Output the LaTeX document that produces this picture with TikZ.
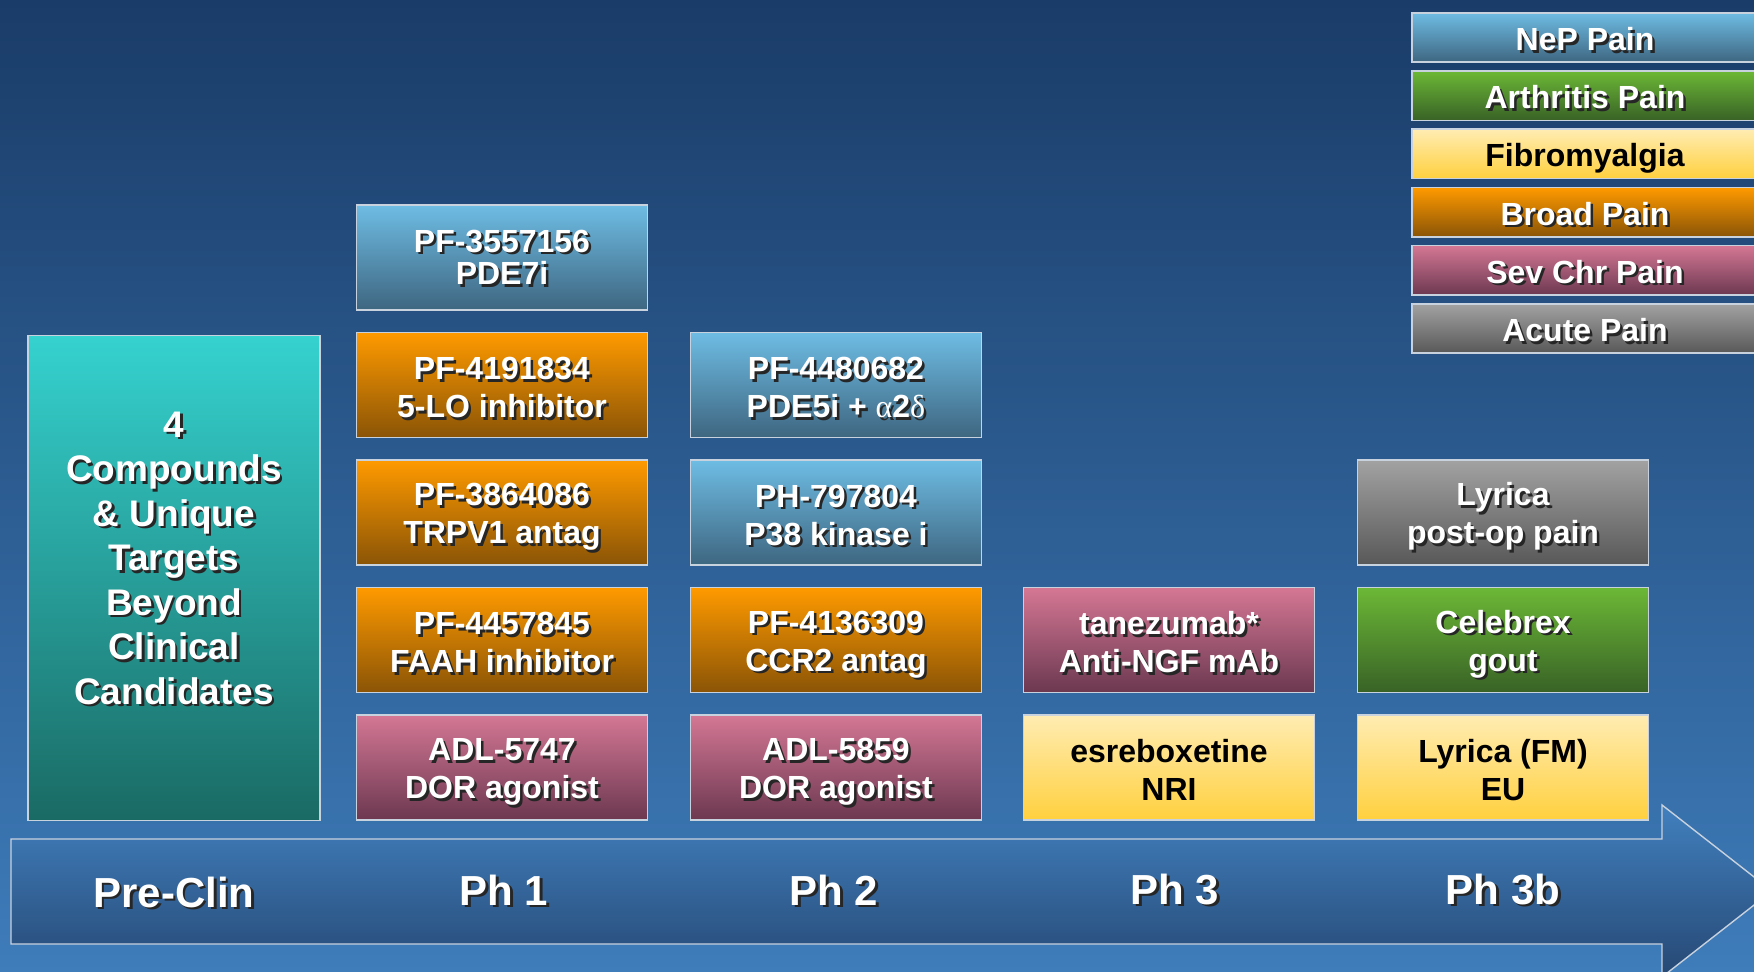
\documentclass[tikz,border=0pt]{standalone}
\usepackage{fontspec}
\setmainfont{Liberation Sans}
\newfontfamily\grkfont{Liberation Serif}
\usepackage{xcolor}
\usepackage{tikz}
\usetikzlibrary{positioning,calc}

\definecolor{bgtop}{HTML}{1A3C68}
\definecolor{bgbot}{HTML}{3E7CBA}
\definecolor{arrtop}{HTML}{4180BE}
\definecolor{arrbot}{HTML}{264874}
\definecolor{edgec}{HTML}{C8D2DE}
\definecolor{bluetop}{HTML}{6EBCE4}
\definecolor{bluebot}{HTML}{3E6680}
\definecolor{orgtop}{HTML}{FF9A00}
\definecolor{orgbot}{HTML}{8A5406}
\definecolor{pinktop}{HTML}{D47794}
\definecolor{pinkbot}{HTML}{6C3850}
\definecolor{yeltop}{HTML}{FFECB2}
\definecolor{yelbot}{HTML}{FFD03E}
\definecolor{grntop}{HTML}{6CB836}
\definecolor{grnbot}{HTML}{386226}
\definecolor{graytop}{HTML}{A2A2A2}
\definecolor{graybot}{HTML}{585858}
\definecolor{tealtop}{HTML}{35D2CF}
\definecolor{tealbot}{HTML}{1A6A64}

% white text with a dark drop shadow
\newcommand\shd[1]{\makebox[0pt][l]{\kern2.5pt\raisebox{-2.5pt}{\color{black!85}#1}}#1}
\newcommand\grk[1]{{\grkfont\mdseries #1}}

\begin{document}
\begin{tikzpicture}[x=1pt, y=-1pt,
  box/.style={draw=edgec, line width=1.6pt, minimum width=291pt, minimum height=105pt,
              inner sep=0pt, align=center, text=white,
              font=\fontsize{32}{38}\selectfont\bfseries,
              execute at begin node=\rule{0pt}{72pt},
              execute at end node={\rule[-7pt]{0pt}{7pt}}},
  bluebox/.style={box, top color=bluetop, bottom color=bluebot},
  orgbox/.style={box, top color=orgtop, bottom color=orgbot},
  pinkbox/.style={box, top color=pinktop, bottom color=pinkbot},
  yelbox/.style={box, top color=yeltop, bottom color=yelbot, text=black},
  grnbox/.style={box, top color=grntop, bottom color=grnbot},
  graybox/.style={box, top color=graytop, bottom color=graybot},
  keybox/.style={box, minimum width=346pt, minimum height=49.5pt,
                 execute at begin node={}, execute at end node={},
                 text height=26pt, text depth=0pt},
  phase/.style={anchor=base, text=white, font=\fontsize{42}{48}\selectfont\bfseries}]
  \useasboundingbox (0,0) rectangle (1754,972);
  \clip (0,0) rectangle (1754,972);
  \fill[top color=bgtop, bottom color=bgbot] (0,0) rectangle (1754,972);

  % pipeline arrow
  \path[draw=edgec, line width=1.4pt, top color=arrtop, bottom color=arrbot]
    (11,839) -- (1662,839) -- (1662,805) -- (1772,891) -- (1662,977)
    -- (1662,944) -- (11,944) -- cycle;
  \node[phase] (pre) at (174,907) {\shd{Pre-Clin}};
  \node[phase] (ph1) at (504,905) {\shd{Ph 1}};
  \node[phase] (ph2) at (834,905) {\shd{Ph 2}};
  \node[phase] (ph3) at (1175,904) {\shd{Ph 3}};
  \node[phase] (ph3b) at (1503,904) {\shd{Ph 3b}};

  % pre-clinical
  \node[box, top color=tealtop, bottom color=tealbot, minimum width=292pt,
        minimum height=485pt, text depth=40pt,
        execute at begin node={}, execute at end node={},
        font=\fontsize{37}{44.5}\selectfont\bfseries] (cand) at (174,578)
    {\shd{4}\\\shd{Compounds}\\\shd{\& Unique}\\\shd{Targets}\\\shd{Beyond}\\\shd{Clinical}\\\shd{Candidates}};

  % Ph 1
  \node[bluebox, font=\fontsize{32}{32.5}\selectfont\bfseries,
        execute at begin node={\rule{0pt}{61pt}},
        execute at end node={\rule[-18pt]{0pt}{18pt}}] (pde7) at (502,257.5) {\shd{PF-3557156}\\\shd{PDE7i}};
  \node[orgbox] (lox) at (502,385) {\shd{PF-4191834}\\\shd{5-LO inhibitor}};
  \node[orgbox] (trpv) at (502,512.5) {\shd{PF-3864086}\\\shd{TRPV1 antag}};
  \node[orgbox] (faah) at (502,640) {\shd{PF-4457845}\\\shd{FAAH inhibitor}};
  \node[pinkbox] (adl57) at (502,767.5) {\shd{ADL-5747}\\\shd{DOR agonist}};

  % Ph 2
  \node[bluebox] (pde5) at (836,385) {\shd{PF-4480682}\\\shd{PDE5i + \grk{α}2\grk{δ}}};
  \node[bluebox] (p38) at (836,512.5) {\shd{PH-797804}\\\shd{P38 kinase i}};
  \node[orgbox] (ccr2) at (836,640) {\shd{PF-4136309}\\\shd{CCR2 antag}};
  \node[pinkbox] (adl58) at (836,767.5) {\shd{ADL-5859}\\\shd{DOR agonist}};

  % Ph 3
  \node[pinkbox] (tane) at (1169,640) {\shd{tanezumab*}\\\shd{Anti-NGF mAb}};
  \node[yelbox] (esre) at (1169,767.5) {esreboxetine\\NRI};

  % Ph 3b
  \node[graybox] (lypo) at (1503,512.5) {\shd{Lyrica}\\\shd{post-op pain}};
  \node[grnbox] (cele) at (1503,640) {\shd{Celebrex}\\\shd{gout}};
  \node[yelbox] (lyfm) at (1503,767.5) {Lyrica (FM)\\EU};

  % legend
  \node[keybox, top color=bluetop, bottom color=bluebot] (kNeP) at (1585,37.5) {\shd{NeP Pain}};
  \node[keybox, top color=grntop, bottom color=grnbot] (kArth) at (1585,95.7) {\shd{Arthritis Pain}};
  \node[keybox, top color=yeltop, bottom color=yelbot, text=black] (kFibro) at (1585,153.9) {Fibromyalgia};
  \node[keybox, top color=orgtop, bottom color=orgbot] (kBroad) at (1585,212.1) {\shd{Broad Pain}};
  \node[keybox, top color=pinktop, bottom color=pinkbot] (kSev) at (1585,270.3) {\shd{Sev Chr Pain}};
  \node[keybox, top color=graytop, bottom color=graybot] (kAcute) at (1585,328.5) {\shd{Acute Pain}};
\end{tikzpicture}
\end{document}
